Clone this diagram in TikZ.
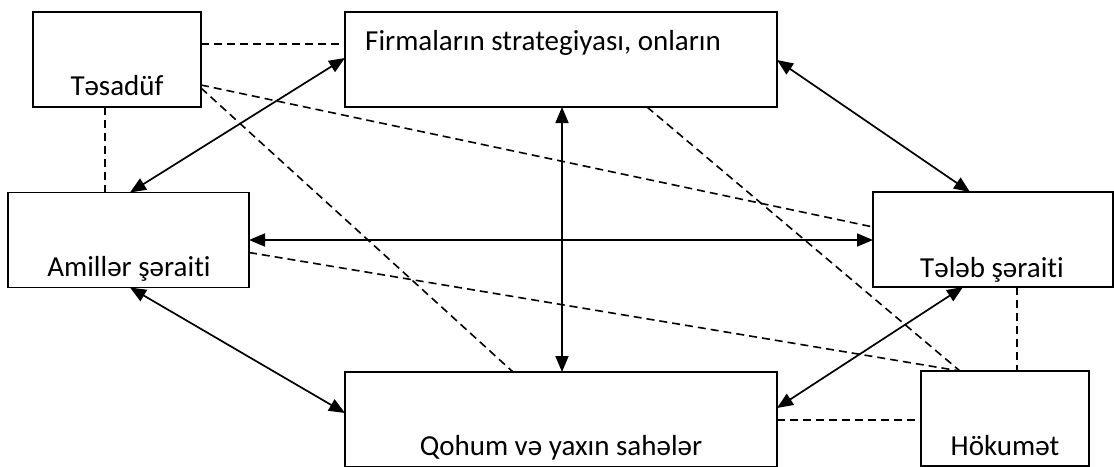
\documentclass[tikz,border=0pt]{standalone}
\usepackage{fontspec}
\setmainfont{Carlito}[Ligatures={NoCommon,NoRequired,NoContextual}]
\usetikzlibrary{arrows.meta,calc}
\begin{document}
\begin{tikzpicture}[x=1pt,y=-1pt,
  box/.style={draw,line width=1.9pt,minimum width=#1,minimum height=95pt,inner sep=0pt,outer sep=0pt},
  lbl/.style={inner sep=0pt,anchor=base,font=\fontsize{29}{34}\selectfont},
  link/.style={line width=1.7pt,{Triangle[length=16pt,width=13pt]}-{Triangle[length=16pt,width=13pt]}},
  dlink/.style={line width=1.6pt,dash pattern=on 8pt off 5pt}]
\clip (0,0) rectangle (1114,466);
\node[box=168pt] (tas) at (117,59.5) {};
\node[box=432pt] (firma) at (561,59.5) {};
\node[box=241pt] (amil) at (128.5,240) {};
\node[box=240pt] (teleb) at (993,239.5) {};
\node[box=432pt] (qohum) at (561,419.5) {};
\node[box=168pt] (hok) at (1005,418.5) {};
\node[lbl] (tast) at (117,95) {Təsadüf};
\node[lbl,anchor=base west] (firmat) at (365,50) {Firmaların strategiyası, onların};
\node[lbl] (amilt) at (129,276) {Amillər şərait\kern0pt i};
\node[lbl] (telebt) at (992,277) {Tələb şərait\kern0pt i};
\node[lbl] (qohumt) at (561,455) {Qohum və yaxın sahələr};
\node[lbl] (hokt) at (1005,455) {Hökumət};
% dashed links
\draw[dlink] ($(tas.north east)+(0,32)$) -- ($(firma.north west)+(0,32)$);
\draw[dlink] ($(tas.south west)+(72,0)$) -- ($(amil.north west)+(97,0)$);
\draw[dlink] ($(tas.north east)+(0,73)$) -- ($(teleb.north west)+(0,35)$);
\draw[dlink] ($(tas.north east)+(0,76)$) -- ($(qohum.north west)+(168,0)$);
\draw[dlink] ($(firma.south west)+(302,0)$) -- ($(hok.north west)+(39,0)$);
\draw[dlink] ($(amil.north east)+(0,60)$) -- ($(hok.north west)+(39,0)$);
\draw[dlink] ($(qohum.north east)+(0,48)$) -- ($(hok.north west)+(0,49)$);
\draw[dlink] ($(teleb.south west)+(144,0)$) -- ($(hok.north west)+(96,0)$);
% solid links
\draw[link] ($(firma.north west)+(0,46)$) -- ($(amil.north west)+(122,0)$);
\draw[link] (amil.east) -- ($(teleb.north west)+(0,48)$);
\draw[link] ($(firma.south west)+(217,0)$) -- ($(qohum.north west)+(217,0)$);
\draw[link] ($(firma.north east)+(0,48)$) -- ($(teleb.north west)+(97,0)$);
\draw[link] ($(amil.south west)+(122,0)$) -- ($(qohum.north west)+(0,41)$);
\draw[link] ($(teleb.south west)+(90,0)$) -- ($(qohum.north east)+(0,36)$);
\end{tikzpicture}
\end{document}
